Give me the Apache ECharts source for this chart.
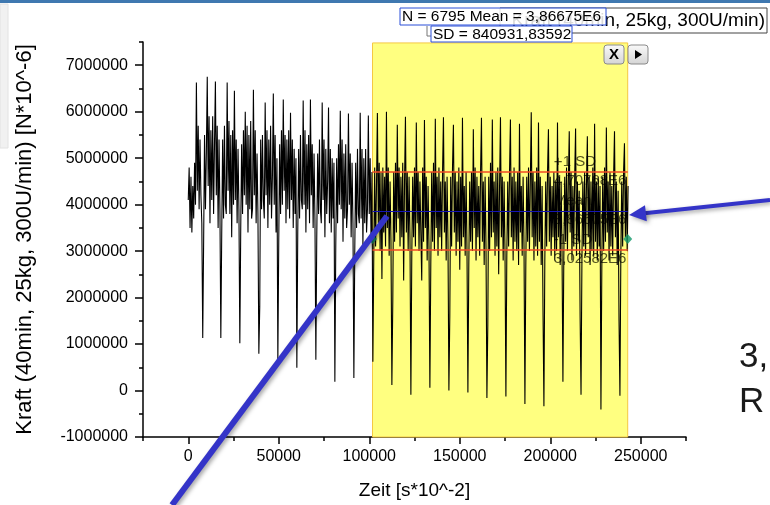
<!DOCTYPE html>
<html><head><meta charset="utf-8">
<script src="https://cdn.jsdelivr.net/npm/echarts@6/dist/echarts.min.js"></script>
<style>html,body{margin:0;padding:0;background:#fff}#c{width:770px;height:505px}</style>
</head><body><div id="c"></div>
<script>
// sampling interval of the force signal along "Zeit"
const sampleStep = 500;
// force signal, in units of 10^6
const kraftMio = [
4.1,4.8,3.5,4.6,3.4,4.4,3.7,4.9,4.0,6.63,4.3,5.7,3.9,5.4,4.2,3.6,
1.13,3.2,5.5,3.9,5.1,6.75,4.4,5.9,3.6,5.6,4.1,5.9,3.8,5.3,6.65,4.2,5.7,3.5,5.4,3.9,
1.13,3.4,5.4,3.7,5.7,4.0,3.8,6.63,4.3,5.8,3.8,5.5,3.3,5.6,4.0,6.45,4.1,5.4,3.6,5.2,3.9,
1.02,3.5,5.3,3.8,5.6,4.2,6.0,4.0,5.7,3.4,5.5,3.9,5.8,3.7,3.9,6.47,4.2,5.6,3.6,5.1,3.8,
0.79,1.8,5.4,3.9,5.5,4.1,3.7,6.2,4.2,5.6,3.5,5.4,4.0,5.7,3.7,4.6,6.39,4.0,5.5,3.4,5.0,
0.61,3.2,5.3,3.8,5.6,4.0,6.26,4.3,5.5,3.6,5.4,3.9,5.6,3.7,5.98,4.1,5.4,3.5,5.2,3.8,5.0,
0.49,3.4,5.2,3.7,5.5,4.1,3.9,6.24,4.0,5.6,3.4,5.3,3.9,5.5,3.6,6.26,4.2,5.3,3.5,5.1,3.7,
0.66,3.3,5.1,3.8,5.4,3.9,3.6,6.2,4.1,5.4,3.3,5.2,3.8,4.5,6.09,3.6,5.2,3.4,5.0,3.7,4.9,
0.19,3.1,5.0,3.6,5.3,4.0,6.02,3.9,5.4,3.2,5.1,3.7,5.3,3.5,3.9,5.96,4.0,5.1,3.3,4.9,3.6,
0.27,3.0,4.9,3.5,5.2,3.8,3.6,5.98,3.7,5.2,3.1,5.0,3.6,5.2,3.4,3.9,5.92,3.8,5.0,3.2,4.7,
0.62,2.9,4.8,3.1,4.4,5.97,3.6,4.9,3.0,4.7,2.4,4.8,3.4,4.6,3.1,6.0,3.5,4.8,2.9,4.5,3.2,
0.12,1.9,4.7,3.2,4.9,3.4,5.72,3.7,4.8,3.1,4.6,3.3,4.9,2.37,4.5,5.89,3.4,4.7,3.0,4.6,3.3,
-0.09,2.9,4.6,3.3,4.8,3.1,5.77,3.6,4.7,3.0,4.5,3.4,2.37,4.8,3.2,5.82,3.5,4.6,2.8,4.4,3.1,
0.06,2.7,4.7,3.2,4.9,3.0,5.85,3.5,4.6,2.9,4.8,3.3,4.5,3.0,4.7,5.88,3.4,4.5,2.8,4.6,3.2,
0.0,1.6,4.6,3.1,4.8,5.72,3.4,4.7,2.9,4.5,3.2,4.8,2.6,4.6,3.1,5.87,3.3,4.4,2.9,4.7,3.0,
-0.04,2.7,4.5,3.2,4.7,3.0,5.62,3.5,4.8,2.8,4.6,3.3,4.4,2.9,4.7,5.87,3.2,4.5,2.7,4.6,3.1,
-0.16,1.4,4.6,3.0,4.9,3.3,5.83,3.4,4.5,2.9,4.7,3.1,4.8,2.5,4.4,5.88,3.3,4.6,2.8,4.5,3.0,
-0.13,2.9,4.5,3.1,4.7,5.83,3.3,4.6,2.8,4.8,3.2,4.5,3.0,4.7,2.7,5.74,3.4,4.4,2.9,4.6,3.1,
-0.29,2.7,4.6,3.2,4.8,3.0,4.5,5.99,3.3,4.7,2.8,4.5,3.1,4.8,2.9,5.77,3.2,4.6,2.7,4.4,1.73,
-0.34,2.8,4.5,3.1,4.7,5.62,3.2,4.6,2.9,4.4,3.3,4.7,2.8,4.5,3.0,5.77,3.3,4.6,2.7,4.5,3.0,
0.19,2.9,4.6,3.2,4.8,3.0,4.5,5.58,3.4,4.7,2.8,4.4,3.1,4.6,5.64,2.9,4.5,3.2,4.3,1.6,
-0.09,2.8,4.5,3.1,4.7,2.9,4.4,5.47,3.3,4.6,2.7,4.5,3.0,4.8,2.9,5.74,3.2,4.5,2.8,4.6,3.1,4.4,
-0.41,2.7,4.6,3.0,4.8,3.2,5.66,3.4,4.5,2.8,4.7,3.1,4.4,2.9,4.6,5.58,3.3,4.5,2.7,4.3,1.5,
-0.11,2.9,4.5,3.1,4.7,5.32,3.3,4.6,3.0,4.4
];
const xTicks = [0, 50000, 100000, 150000, 200000, 250000];
const xMinorTicks = [-25000, 25000, 75000, 125000, 175000, 225000, 275000];
const yTicks = [-1000000, 0, 1000000, 2000000, 3000000, 4000000, 5000000, 6000000, 7000000];
const yMinorTicks = [-500000, 500000, 1500000, 2500000, 3500000, 4500000, 5500000, 6500000, 7500000];
// statistics of the selected range
const statN = 6795;
const statMean = 3866750;
const statSD = 840931.83592;
const statNames = ['+1 SD', 'Mean', '-1 SD'];
const statTexts = ['4,70768E6', '3,86675E6', '3,02582E6'];
const meanText = '3,86675E6';
const sdText = '840931,83592';
const rangeStart = 101800, rangeEnd = 242800;
const handleY = 3260000;
const labelX = 202000;

const levels = [statMean + statSD, statMean, statMean - statSD];
const signal = kraftMio.map((v, i) => [i * sampleStep, v * 1e6]);

const FONT = 'Liberation Sans, Arial, sans-serif';
const chart = echarts.init(document.getElementById('c'), null, {renderer: 'canvas'});

const labelData = [];
levels.forEach((lv, k) => {
  labelData.push({value: [labelX, lv], name: statNames[k], label: {position: [0, -10]}});
  labelData.push({value: [labelX, lv], name: statTexts[k], label: {position: [0, 9]}});
});
const plain = v => String(Math.round(v));

chart.setOption({
  animation: false,
  backgroundColor: '#fff',
  grid: {left: 143, right: 84, top: 42, bottom: 68, containLabel: false},
  xAxis: [{
    type: 'value', min: -25000, max: 275000, position: 'bottom',
    name: 'Zeit [s*10^-2]', nameLocation: 'middle', nameGap: 44,
    nameTextStyle: {fontFamily: FONT, fontSize: 19, color: '#000'},
    axisLine: {show: true, onZero: false, lineStyle: {color: '#000', width: 1.5}},
    axisTick: {show: true, customValues: xTicks, length: 7, lineStyle: {color: '#000', width: 1.5}},
    axisLabel: {customValues: xTicks, formatter: plain, fontFamily: FONT, fontSize: 16, color: '#000', margin: 12},
    splitLine: {show: false}
  }, {
    type: 'value', min: -25000, max: 275000, position: 'bottom', gridIndex: 0,
    axisLine: {show: false, onZero: false},
    axisTick: {show: true, customValues: xMinorTicks, length: 4, lineStyle: {color: '#000', width: 1.5}},
    axisLabel: {show: false},
    splitLine: {show: false}
  }],
  yAxis: [{
    type: 'value', min: -1000000, max: 7500000, interval: 1000000, position: 'left',
    name: 'Kraft (40min, 25kg, 300U/min) [N*10^-6]', nameLocation: 'middle', nameGap: 107,
    nameTextStyle: {fontFamily: FONT, fontSize: 22, color: '#000'},
    axisLine: {show: true, onZero: false, lineStyle: {color: '#000', width: 1.5}},
    axisTick: {show: true, customValues: yTicks, length: 8, lineStyle: {color: '#000', width: 1.5}},
    axisLabel: {customValues: yTicks, formatter: plain, fontFamily: FONT, fontSize: 16, color: '#000', margin: 15},
    splitLine: {show: false}
  }, {
    type: 'value', min: -1000000, max: 7500000, position: 'left', gridIndex: 0,
    axisLine: {show: false, onZero: false},
    axisTick: {show: true, customValues: yMinorTicks, length: 4, lineStyle: {color: '#000', width: 1.5}},
    axisLabel: {show: false},
    splitLine: {show: false}
  }],
  series: [{
    type: 'line', z: 1, data: [], silent: true,
    markArea: {
      silent: true,
      itemStyle: {color: '#ffff80', borderColor: '#f5c842', borderWidth: 1},
      data: [[{coord: [rangeStart, -1000000]}, {coord: [rangeEnd, 7480000]}]]
    }
  }, {
    type: 'scatter', z: 2, symbolSize: 0, silent: true,
    data: labelData,
    label: {show: true, formatter: p => p.name, align: 'left', verticalAlign: 'middle',
      fontFamily: FONT, fontSize: 15, color: '#2a2a08'}
  }, {
    type: 'line', z: 3, data: signal, showSymbol: false, symbol: 'none', silent: true,
    sampling: false,
    lineStyle: {color: '#000', width: 1.1}
  }, {
    type: 'line', z: 4, data: [], silent: true,
    markLine: {
      silent: true, symbol: 'none', label: {show: false},
      data: levels.map((lv, k) => [
        {coord: [rangeStart, lv], lineStyle: {color: k === 1 ? '#1414b4' : '#f04a24', width: k === 1 ? 1.2 : 1.5, type: 'solid'}},
        {coord: [rangeEnd, lv]}
      ])
    }
  }, {
    type: 'scatter', z: 5, symbol: 'diamond', symbolSize: [9, 10], silent: true,
    itemStyle: {color: '#12996a'},
    data: [[rangeStart, handleY], [rangeEnd, handleY]]
  }],
  graphic: [
    {type: 'rect', z: 100, shape: {x: 0, y: 0, width: 770, height: 3}, style: {fill: '#3f78b0'}},
    {type: 'rect', z: 100, shape: {x: 0, y: 4, width: 8, height: 144}, style: {fill: '#f1f1f1', stroke: '#e2e2e2'}},
    {type: 'rect', z: 100, shape: {x: 500, y: 8, width: 267, height: 25}, style: {fill: '#fff', stroke: '#444', lineWidth: 1}},
    {type: 'text', z: 101, x: 765, y: 21, style: {text: 'Kraft (40min, 25kg, 300U/min)', font: '19px ' + FONT, fill: '#000', align: 'right', verticalAlign: 'middle'}},
    {type: 'rect', z: 102, shape: {x: 400, y: 8, width: 206, height: 17}, style: {fill: 'rgba(255,255,255,0.85)', stroke: '#2a4fd8', lineWidth: 1}},
    {type: 'text', z: 103, x: 402, y: 17, style: {text: 'N = ' + statN + ' Mean = ' + meanText, font: '15.5px ' + FONT, fill: '#000', align: 'left', verticalAlign: 'middle'}},
    {type: 'polyline', z: 102, shape: {points: [[427, 26], [427, 36], [431, 36]]}, style: {stroke: '#777', lineWidth: 1, fill: null}},
    {type: 'rect', z: 102, shape: {x: 431, y: 26, width: 141, height: 16}, style: {fill: '#fff', stroke: '#2a4fd8', lineWidth: 1}},
    {type: 'text', z: 103, x: 433, y: 34.5, style: {text: 'SD = ' + sdText, font: '15.5px ' + FONT, fill: '#000', align: 'left', verticalAlign: 'middle'}},
    {type: 'rect', z: 102, shape: {x: 604, y: 45, width: 20, height: 19, r: 3}, style: {fill: new echarts.graphic.LinearGradient(0, 0, 0, 1, [{offset: 0, color: '#fafafa'}, {offset: 1, color: '#d4d4d4'}]), stroke: '#8a8a8a', lineWidth: 1}},
    {type: 'text', z: 103, x: 614, y: 55, style: {text: 'X', font: 'bold 15px ' + FONT, fill: '#000', align: 'center', verticalAlign: 'middle'}},
    {type: 'rect', z: 102, shape: {x: 628, y: 45, width: 20, height: 19, r: 3}, style: {fill: new echarts.graphic.LinearGradient(0, 0, 0, 1, [{offset: 0, color: '#fafafa'}, {offset: 1, color: '#d4d4d4'}]), stroke: '#8a8a8a', lineWidth: 1}},
    {type: 'polygon', z: 103, shape: {points: [[635, 50], [635, 59], [642, 54.5]]}, style: {fill: '#000'}},
    {type: 'line', z: 110, shape: {x1: 172, y1: 505, x2: 387, y2: 216}, style: {stroke: '#3434c8', lineWidth: 6, shadowBlur: 4, shadowColor: 'rgba(0,0,0,0.35)', shadowOffsetX: 2, shadowOffsetY: 2}},
    {type: 'line', z: 110, shape: {x1: 770, y1: 200, x2: 642, y2: 213.6}, style: {stroke: '#3434c8', lineWidth: 4, shadowBlur: 4, shadowColor: 'rgba(0,0,0,0.35)', shadowOffsetX: 2, shadowOffsetY: 2}},
    {type: 'polygon', z: 110, shape: {points: [[629, 215], [645, 205.3], [646.8, 221.2]]}, style: {fill: '#3434c8', shadowBlur: 4, shadowColor: 'rgba(0,0,0,0.35)', shadowOffsetX: 2, shadowOffsetY: 2}},
    {type: 'text', z: 110, x: 739, y: 340, style: {text: '3,', font: '35px ' + FONT, fill: '#1a1a1a', align: 'left', verticalAlign: 'alphabetic'}},
    {type: 'text', z: 110, x: 739, y: 385, style: {text: 'R', font: '35px ' + FONT, fill: '#1a1a1a', align: 'left', verticalAlign: 'alphabetic'}}
  ]
});
</script>
</body></html>
